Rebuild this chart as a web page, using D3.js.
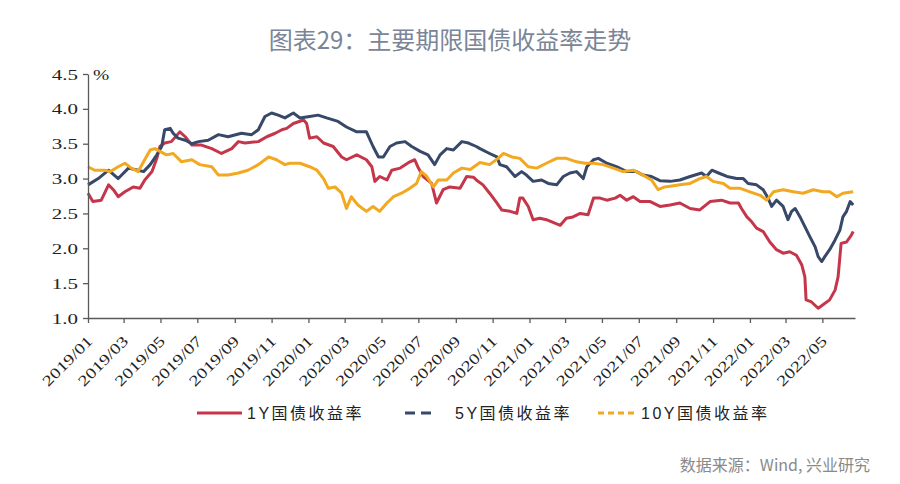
<!DOCTYPE html>
<html>
<head>
<meta charset="utf-8">
<script src="https://cdn.jsdelivr.net/npm/d3@7"></script>
<style>
  html, body { margin: 0; padding: 0; background: #fff; }
  svg { display: block; }
</style>
</head>
<body>
<svg id="chart" width="900" height="484"></svg>
<script>
// ---------------- DATA ----------------
const title = "图表29：主要期限国债收益率走势";
const source = "数据来源：Wind, 兴业研究";
const seriesNames = ["1Y国债收益率", "5Y国债收益率", "10Y国债收益率"];
const yTicks = [1.0, 1.5, 2.0, 2.5, 3.0, 3.5, 4.0, 4.5];
const xTickLabels = ["2019/01","2019/03","2019/05","2019/07","2019/09","2019/11",
  "2020/01","2020/03","2020/05","2020/07","2020/09","2020/11",
  "2021/01","2021/03","2021/05","2021/07","2021/09","2021/11",
  "2022/01","2022/03","2022/05"];
const xDomain = ["2019-01-01", "2022-06-24"];

const y1 = [
 ["2019-01-01",2.79],["2019-01-09",2.67],["2019-01-23",2.69],["2019-02-04",2.91],["2019-02-12",2.84],
 ["2019-02-20",2.74],["2019-03-03",2.81],["2019-03-17",2.88],["2019-03-28",2.86],["2019-04-05",2.98],
 ["2019-04-17",3.10],["2019-04-25",3.29],["2019-04-30",3.46],["2019-05-08",3.51],["2019-05-19",3.53],
 ["2019-06-02",3.67],["2019-06-11",3.60],["2019-06-22",3.48],["2019-07-08",3.48],["2019-07-25",3.43],
 ["2019-08-10",3.36],["2019-08-27",3.43],["2019-09-07",3.53],["2019-09-18",3.51],["2019-10-10",3.53],
 ["2019-10-24",3.60],["2019-11-07",3.65],["2019-11-18",3.70],["2019-11-26",3.72],["2019-12-07",3.79],
 ["2019-12-24",3.84],["2019-12-29",3.79],["2020-01-03",3.58],["2020-01-15",3.60],["2020-01-26",3.51],
 ["2020-02-11",3.46],["2020-02-25",3.31],["2020-03-04",3.27],["2020-03-21",3.34],["2020-04-06",3.27],
 ["2020-04-15",3.17],["2020-04-20",2.96],["2020-04-28",3.03],["2020-05-10",2.98],["2020-05-18",3.12],
 ["2020-06-01",3.15],["2020-06-17",3.24],["2020-06-25",3.27],["2020-06-30",3.17],["2020-07-09",3.03],
 ["2020-07-23",2.93],["2020-07-31",2.65],["2020-08-11",2.84],["2020-08-22",2.88],["2020-09-08",2.86],
 ["2020-09-19",3.03],["2020-09-30",3.02],["2020-10-05",2.98],["2020-10-16",2.91],["2020-10-27",2.79],
 ["2020-11-08",2.65],["2020-11-16",2.55],["2020-11-30",2.53],["2020-12-11",2.50],["2020-12-16",2.72],
 ["2020-12-21",2.72],["2020-12-30",2.60],["2021-01-07",2.41],["2021-01-18",2.43],["2021-01-29",2.41],
 ["2021-02-12",2.36],["2021-02-21",2.33],["2021-03-03",2.43],["2021-03-14",2.45],["2021-03-26",2.50],
 ["2021-04-08",2.48],["2021-04-17",2.72],["2021-04-28",2.72],["2021-05-09",2.69],["2021-05-23",2.72],
 ["2021-05-31",2.76],["2021-06-11",2.69],["2021-06-22",2.74],["2021-07-03",2.67],["2021-07-20",2.67],
 ["2021-08-05",2.60],["2021-08-22",2.62],["2021-09-07",2.65],["2021-09-24",2.57],["2021-10-10",2.55],
 ["2021-10-27",2.67],["2021-11-15",2.69],["2021-11-29",2.65],["2021-12-13",2.65],["2021-12-18",2.57],
 ["2021-12-27",2.45],["2022-01-04",2.38],["2022-01-12",2.29],["2022-01-23",2.24],["2022-02-03",2.09],
 ["2022-02-14",1.98],["2022-02-25",1.93],["2022-03-08",1.95],["2022-03-19",1.90],["2022-03-28",1.76],
 ["2022-04-02",1.59],["2022-04-04",1.26],["2022-04-13",1.23],["2022-04-24",1.14],["2022-05-02",1.19],
 ["2022-05-13",1.26],["2022-05-22",1.40],["2022-05-27",1.59],["2022-06-01",2.07],["2022-06-10",2.09],
 ["2022-06-18",2.19],["2022-06-21",2.24]
];

const y5 = [
 ["2019-01-01",2.91],["2019-01-18",3.00],["2019-02-04",3.12],["2019-02-20",3.00],["2019-03-09",3.15],
 ["2019-03-25",3.12],["2019-04-03",3.10],["2019-04-14",3.20],["2019-04-25",3.34],["2019-05-03",3.46],
 ["2019-05-08",3.70],["2019-05-17",3.72],["2019-05-22",3.65],["2019-05-30",3.58],["2019-06-11",3.55],
 ["2019-06-22",3.50],["2019-07-03",3.53],["2019-07-19",3.55],["2019-08-05",3.63],["2019-08-21",3.60],
 ["2019-09-12",3.65],["2019-09-29",3.63],["2019-10-10",3.70],["2019-10-21",3.89],["2019-11-01",3.94],
 ["2019-11-12",3.91],["2019-11-23",3.87],["2019-12-07",3.94],["2019-12-18",3.87],["2020-01-03",3.89],
 ["2020-01-17",3.91],["2020-01-31",3.87],["2020-02-19",3.82],["2020-03-04",3.74],["2020-03-21",3.67],
 ["2020-04-06",3.67],["2020-04-17",3.46],["2020-04-26",3.31],["2020-05-04",3.31],["2020-05-15",3.46],
 ["2020-05-26",3.51],["2020-06-09",3.53],["2020-06-20",3.46],["2020-07-04",3.39],["2020-07-17",3.34],
 ["2020-07-28",3.20],["2020-08-06",3.34],["2020-08-17",3.43],["2020-08-28",3.41],["2020-09-11",3.53],
 ["2020-09-22",3.51],["2020-10-05",3.46],["2020-10-11",3.43],["2020-10-27",3.36],["2020-11-08",3.31],
 ["2020-11-13",3.20],["2020-11-24",3.17],["2020-12-08",3.03],["2020-12-19",3.10],["2020-12-27",3.05],
 ["2021-01-07",2.96],["2021-01-21",2.98],["2021-02-01",2.93],["2021-02-15",2.91],["2021-02-26",3.03],
 ["2021-03-09",3.08],["2021-03-20",3.10],["2021-03-31",3.00],["2021-04-06",3.17],["2021-04-17",3.27],
 ["2021-04-25",3.29],["2021-05-09",3.22],["2021-05-25",3.17],["2021-06-11",3.10],["2021-06-27",3.10],
 ["2021-07-08",3.05],["2021-07-22",3.03],["2021-08-05",2.97],["2021-08-22",2.96],["2021-09-07",2.98],
 ["2021-09-24",3.03],["2021-10-13",3.08],["2021-10-21",3.03],["2021-10-30",3.12],["2021-11-10",3.08],
 ["2021-11-24",3.03],["2021-12-10",3.00],["2021-12-21",3.00],["2021-12-29",2.93],["2022-01-12",2.91],
 ["2022-01-23",2.84],["2022-01-31",2.72],["2022-02-06",2.60],["2022-02-14",2.69],["2022-02-25",2.60],
 ["2022-03-05",2.41],["2022-03-11",2.53],["2022-03-17",2.57],["2022-03-25",2.45],["2022-04-02",2.31],
 ["2022-04-10",2.17],["2022-04-19",2.02],["2022-04-24",1.88],["2022-04-30",1.81],["2022-05-05",1.88],
 ["2022-05-13",1.98],["2022-05-22",2.12],["2022-05-30",2.26],["2022-06-04",2.45],["2022-06-10",2.53],
 ["2022-06-16",2.67],["2022-06-21",2.62]
];

const y10 = [
 ["2019-01-01",3.17],["2019-01-12",3.12],["2019-01-29",3.12],["2019-02-07",3.10],["2019-02-20",3.17],
 ["2019-03-03",3.22],["2019-03-14",3.15],["2019-03-25",3.10],["2019-04-03",3.24],["2019-04-14",3.41],
 ["2019-04-22",3.43],["2019-04-30",3.39],["2019-05-11",3.34],["2019-05-22",3.36],["2019-06-05",3.24],
 ["2019-06-22",3.27],["2019-07-05",3.20],["2019-07-25",3.17],["2019-08-05",3.05],["2019-08-21",3.05],
 ["2019-09-07",3.08],["2019-09-23",3.12],["2019-10-10",3.20],["2019-10-27",3.31],["2019-11-09",3.27],
 ["2019-11-23",3.20],["2019-12-01",3.22],["2019-12-18",3.22],["2020-01-03",3.17],["2020-01-15",3.12],
 ["2020-01-26",3.00],["2020-02-03",2.86],["2020-02-14",2.88],["2020-02-25",2.79],["2020-03-04",2.57],
 ["2020-03-12",2.74],["2020-03-23",2.62],["2020-04-06",2.53],["2020-04-17",2.60],["2020-04-28",2.53],
 ["2020-05-10",2.65],["2020-05-21",2.74],["2020-06-03",2.79],["2020-06-17",2.86],["2020-06-28",2.93],
 ["2020-07-06",3.10],["2020-07-15",3.03],["2020-07-26",2.88],["2020-08-03",2.98],["2020-08-17",2.98],
 ["2020-08-28",3.08],["2020-09-11",3.15],["2020-09-25",3.13],["2020-10-11",3.23],["2020-10-27",3.20],
 ["2020-11-10",3.29],["2020-11-19",3.36],["2020-12-03",3.31],["2020-12-16",3.29],["2020-12-30",3.17],
 ["2021-01-13",3.15],["2021-01-29",3.22],["2021-02-15",3.29],["2021-03-03",3.29],["2021-03-20",3.24],
 ["2021-04-03",3.22],["2021-04-17",3.22],["2021-05-03",3.20],["2021-05-20",3.15],["2021-06-05",3.10],
 ["2021-06-22",3.12],["2021-07-08",3.05],["2021-07-22",2.98],["2021-08-02",2.84],["2021-08-13",2.88],
 ["2021-08-22",2.89],["2021-09-07",2.91],["2021-09-24",2.93],["2021-10-10",3.00],["2021-10-21",3.03],
 ["2021-11-01",2.96],["2021-11-18",2.93],["2021-11-29",2.86],["2021-12-16",2.86],["2022-01-01",2.81],
 ["2022-01-18",2.76],["2022-01-29",2.69],["2022-02-09",2.81],["2022-02-25",2.84],["2022-03-14",2.81],
 ["2022-03-30",2.79],["2022-04-16",2.84],["2022-05-02",2.81],["2022-05-13",2.81],["2022-05-25",2.74],
 ["2022-06-04",2.79],["2022-06-21",2.81]
];

const colors = ["#c5364b", "#374868", "#f2a81f"];

// ---------------- DRAW ----------------
const svg = d3.select("#chart");
const parse = d3.timeParse("%Y-%m-%d");
const parseTick = d3.timeParse("%Y/%m");

const x = d3.scaleTime().domain(xDomain.map(parse)).range([88, 855]);
const y = d3.scaleLinear().domain([1.0, 4.5]).range([318, 74]);

// title
svg.append("text")
  .attr("x", 450).attr("y", 49)
  .attr("text-anchor", "middle")
  .attr("font-family", "'Noto Sans CJK SC', sans-serif")
  .attr("font-size", 24)
  .attr("fill", "#7a8597")
  .text(title);

// lines
const line = d3.line()
  .x(d => x(parse(d[0])))
  .y(d => y(d[1]))
  .curve(d3.curveLinear);

[y1, y5, y10].forEach((s, i) => {
  svg.append("path")
    .datum(s)
    .attr("fill", "none")
    .attr("stroke", colors[i])
    .attr("stroke-width", 3)
    .attr("stroke-linejoin", "round")
    .attr("d", line);
});

// reorder so 10Y drawn under? keep order 1Y,5Y,10Y as is

const axisColor = "#5a5a5a";
const serif = "'Liberation Serif', 'Times New Roman', serif";

// y axis
const yAxis = svg.append("g").attr("transform", "translate(88,0)")
  .call(d3.axisLeft(y).tickValues(yTicks).tickFormat(d3.format(".1f")).tickSize(5).tickSizeOuter(0));
yAxis.select(".domain").attr("stroke", axisColor).attr("stroke-width", 1.3);
yAxis.selectAll(".tick line").attr("stroke", axisColor).attr("stroke-width", 1.3);
yAxis.selectAll(".tick text").remove();
yAxis.selectAll(".tick").append("text")
  .attr("transform", "translate(-10,5) scale(1.4,1)")
  .attr("text-anchor", "end")
  .attr("font-family", serif)
  .attr("font-size", 15)
  .attr("fill", "#222")
  .text(d => d3.format(".1f")(d));

svg.append("text")
  .attr("transform", "translate(93,80) scale(1.3,1)")
  .attr("font-family", serif)
  .attr("font-size", 15)
  .attr("fill", "#222")
  .text("%");

// x axis
const xTickDates = xTickLabels.map(parseTick);
const xAxis = svg.append("g").attr("transform", "translate(0,318)")
  .call(d3.axisBottom(x).tickValues(xTickDates).tickSize(5).tickSizeOuter(0).tickFormat(""));
xAxis.select(".domain").attr("stroke", axisColor).attr("stroke-width", 1.3);
xAxis.selectAll(".tick line").attr("stroke", axisColor).attr("stroke-width", 1.3);
xAxis.selectAll(".tick text").remove();
xAxis.selectAll(".tick").append("text")
  .attr("transform", "translate(5,24) rotate(-45) scale(1.3,1)")
  .attr("text-anchor", "end")
  .attr("font-family", serif)
  .attr("font-size", 15)
  .attr("fill", "#222")
  .text((d, i) => xTickLabels[i]);

// legend
const legend = [
  { x1: 197, x2: 242, tx: 247, dash: null },
  { x1: 405, x2: 431, tx: 455, dash: "10,6" },
  { x1: 598, x2: 637, tx: 641, dash: "6,4" }
];
legend.forEach((l, i) => {
  svg.append("line")
    .attr("x1", l.x1).attr("x2", l.x2).attr("y1", 413).attr("y2", 413)
    .attr("stroke", colors[i]).attr("stroke-width", 3)
    .attr("stroke-dasharray", l.dash);
  svg.append("text")
    .attr("x", l.tx).attr("y", 419)
    .attr("font-family", "'Liberation Sans', 'Noto Sans CJK SC', sans-serif")
    .attr("font-size", 16)
    .attr("letter-spacing", 2.5)
    .attr("fill", "#222")
    .text(seriesNames[i]);
});

// source
svg.append("text")
  .attr("x", 870).attr("y", 471)
  .attr("text-anchor", "end")
  .attr("font-family", "'Noto Sans CJK SC', sans-serif")
  .attr("font-size", 16)
  .attr("fill", "#8a8a8a")
  .text(source);
</script>
</body>
</html>
